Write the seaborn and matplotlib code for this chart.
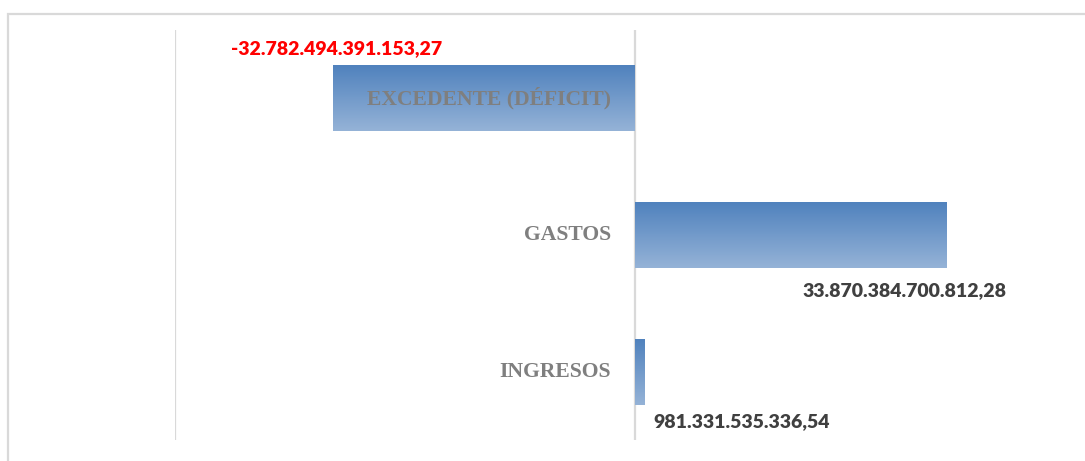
import matplotlib
matplotlib.use('Agg')
import matplotlib.pyplot as plt
import matplotlib.colors as mcolors
import numpy as np
import pandas as pd
import seaborn as sns
from matplotlib.patches import Rectangle

# --- data ---
categories = ['EXCEDENTE (DÉFICIT)', 'GASTOS', 'INGRESOS']
values = [-32782494391153.27, 33870384700812.28, 981331535336.54]
value_labels = ['-32.782.494.391.153,27', '33.870.384.700.812,28', '981.331.535.336,54']
label_colors = ['#ff0000', '#404040', '#404040']
# label offsets (pixels) relative to bar end / bar edge
label_offsets = [(3, -17), (-42, 22), (98, 17)]


def main():
    sns.set_theme(style='white')
    plt.rcParams['font.family'] = ['Lato', 'DejaVu Sans']

    df = pd.DataFrame({'categoria': categories, 'valor': values})

    fig = plt.figure(figsize=(10.85, 4.61), dpi=100)
    W, H = 1085, 461
    ax = fig.add_axes([175 / W, 1 - 440 / H, 920 / W, 410 / H])

    # chart-area border (partly cut by the image edges)
    fig.add_artist(Rectangle((8 / W, -0.2), 1.2, 1 - 14 / H + 0.2,
                             transform=fig.transFigure, fill=False,
                             edgecolor='#d9d9d9', linewidth=1.6, zorder=0))

    sns.barplot(data=df, x='valor', y='categoria', orient='h', width=0.485,
                color='#4f81bd', ax=ax, zorder=2, linewidth=0)

    # gradient fill: dark blue at top, lighter at bottom
    cmap = mcolors.LinearSegmentedColormap.from_list(
        'grad', ['#4f81bd', '#95b3d7'])
    grad = np.linspace(0, 1, 256).reshape(-1, 1)
    for patch in ax.patches:
        x0, y0 = patch.get_x(), patch.get_y()
        w, h = patch.get_width(), patch.get_height()
        patch.set_facecolor('none')
        im = ax.imshow(grad, cmap=cmap, aspect='auto', zorder=2,
                       extent=[x0, x0 + w, y0 + h, y0], interpolation='bilinear')
        im.set_clip_path(patch)

    ax.set_xlim(-50e12, 50e12)
    ax.set_ylim(2.5, -0.5)

    # vertical gridlines
    for gx in (-50e12, 0, 50e12):
        ax.axvline(gx, color='#d9d9d9', linewidth=1.6, zorder=1)

    for s in ax.spines.values():
        s.set_visible(False)
    ax.set_xticks([])
    ax.set_yticks([])
    ax.set_xlabel('')
    ax.set_ylabel('')

    # category labels next to the zero line
    for i, cat in enumerate(categories):
        ax.annotate(cat, xy=(0, i), xytext=(-24, 0), textcoords='offset pixels',
                    ha='right', va='center', fontsize=15.6, fontweight='bold',
                    color='#7f7f7f', family=['Liberation Serif', 'DejaVu Serif'],
                    zorder=4)

    # value labels
    half = 0.485 / 2
    for i, (v, txt, col, off) in enumerate(zip(values, value_labels, label_colors, label_offsets)):
        edge = i - half if off[1] < 0 else i + half
        ax.annotate(txt, xy=(v, edge), xytext=(off[0], -off[1]), textcoords='offset pixels',
                    ha='center', va='center', fontsize=14, fontweight='heavy',
                    color=col, zorder=4, annotation_clip=False)

    fig.savefig('out.png', dpi=100)
    plt.close(fig)


if __name__ == '__main__':
    main()
